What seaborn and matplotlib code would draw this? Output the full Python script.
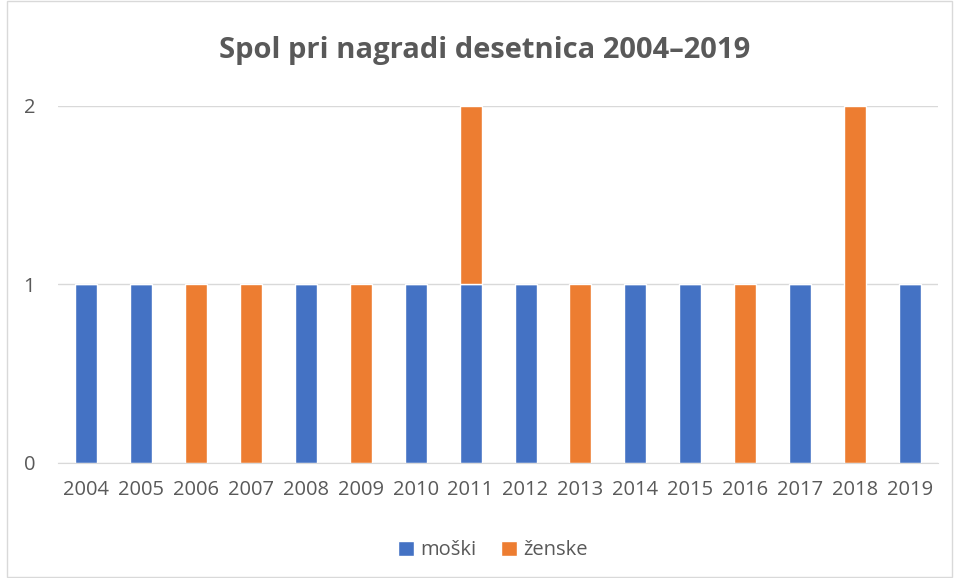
import pandas as pd
import matplotlib.pyplot as plt
import seaborn as sns
from matplotlib.patches import Rectangle

# Data
years = [str(y) for y in range(2004, 2020)]
moski = [1, 1, 0, 0, 1, 0, 1, 1, 1, 0, 1, 1, 0, 1, 0, 1]
zenske = [0, 0, 1, 1, 0, 1, 0, 1, 0, 1, 0, 0, 1, 0, 2, 0]

blue = "#4472C4"
orange = "#ED7D31"
gray = "#595959"

df = pd.DataFrame({"leto": years, "moški": moski, "ženske": zenske})

sns.set_style("white")
plt.rcParams["font.family"] = ["Open Sans", "DejaVu Sans"]

fig = plt.figure(figsize=(9.55, 5.78), dpi=100)
ax = fig.add_axes([0.061, 0.199, 0.921, 0.618])

sns.barplot(data=df, x="leto", y="moški", color=blue, width=0.4,
            saturation=1, ax=ax, label="moški")
sns.barplot(data=df, x="leto", y="ženske", color=orange, width=0.4,
            saturation=1, ax=ax, bottom=df["moški"], label="ženske")

ax.set_ylim(0, 2)
ax.set_xlim(-0.5, len(years) - 0.5)
ax.set_yticks([0, 1, 2])
ax.yaxis.grid(True, color="#D9D9D9", linewidth=1)
ax.set_axisbelow(True)
for s in ["top", "right", "left"]:
    ax.spines[s].set_visible(False)
ax.spines["bottom"].set_color("#D9D9D9")
ax.tick_params(axis="both", length=0, labelsize=14.5, labelcolor=gray)
ax.tick_params(axis="x", pad=12)
ax.tick_params(axis="y", pad=25)
for lbl in ax.get_yticklabels():
    lbl.set_horizontalalignment("left")
ax.set_xlabel("")
ax.set_ylabel("")

fig.suptitle("Spol pri nagradi desetnica 2004–2019", fontsize=21,
             fontweight="bold", color=gray, x=0.507, y=0.937)

leg = ax.legend(loc="upper center", bbox_to_anchor=(0.494, -0.166), ncol=2,
                frameon=False, fontsize=14.5, handlelength=0.8,
                handleheight=0.8, columnspacing=1.2, handletextpad=0.3)
for t in leg.get_texts():
    t.set_color(gray)

# light frame around the whole chart
fig.patches.append(Rectangle((0.007, 0.002), 0.99, 0.996, transform=fig.transFigure,
                             fill=False, edgecolor="#D9D9D9", linewidth=1))

fig.savefig("out.png", dpi=100)
